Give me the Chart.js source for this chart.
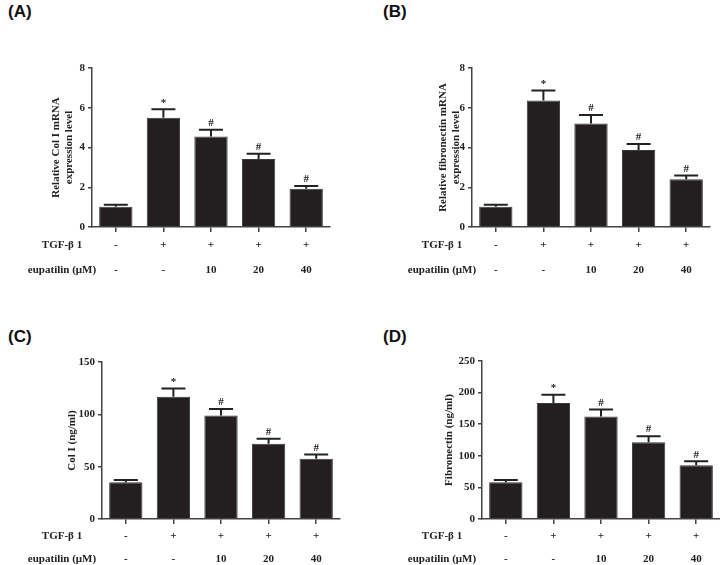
<!DOCTYPE html>
<html>
<head>
<meta charset="utf-8">
<script src="https://cdn.jsdelivr.net/npm/chart.js@4.4.1/dist/chart.umd.min.js"></script>
<style>
  body { margin: 0; background: #fff; }
  #wrap { position: relative; width: 720px; height: 565px; overflow: hidden; }
  canvas { position: absolute; }
  .tag { position: absolute; font: bold 17px "Liberation Sans", Arial, sans-serif; color: #111; line-height: 20px; }
</style>
</head>
<body>
<div id="wrap">
  <div class="tag" style="left:8px;top:2px">(A)</div>
  <div class="tag" style="left:383px;top:2px">(B)</div>
  <div class="tag" style="left:8px;top:327px">(C)</div>
  <div class="tag" style="left:383px;top:327px">(D)</div>
  <canvas id="chartA" width="360" height="282" style="left:0;top:0"></canvas>
  <canvas id="chartB" width="360" height="282" style="left:360px;top:0"></canvas>
  <canvas id="chartC" width="360" height="283" style="left:0;top:282px"></canvas>
  <canvas id="chartD" width="360" height="283" style="left:360px;top:282px"></canvas>
</div>
<script>
// rows printed under each x axis
const tgfRow = ['-', '+', '+', '+', '+'];
const eupatilinRow = ['-', '-', '10', '20', '40'];
const signif = ['', '*', '#', '#', '#'];

// (A) Col I mRNA, relative
const colMrna = [1.02, 5.50, 4.55, 3.42, 1.92];
const colMrnaSd = [0.10, 0.42, 0.34, 0.26, 0.14];

// (B) fibronectin mRNA, relative
const fnMrna = [1.02, 6.37, 5.21, 3.88, 2.40];
const fnMrnaSd = [0.10, 0.50, 0.42, 0.30, 0.19];

// (C) Col I protein, ng/ml
const colProt = [35, 116.7, 98.9, 71.8, 57.5];
const colProtSd = [2.2, 7.9, 6.3, 4.8, 4.2];

// (D) fibronectin protein, ng/ml
const fnProt = [58, 183.4, 162.3, 121.6, 85.1];
const fnProtSd = [3.8, 13.2, 11.1, 9.5, 6.3];

const ink = '#222';
const serif = "'Liberation Serif', 'Times New Roman', serif";

function makePanel(id, values, sd, yTitle, yMax, step, geo) {
    const labels = tgfRow.map((t, i) => [t, eupatilinRow[i]]);

    // error bars, significance marks and row headers
    const extras = {
        id: 'extras',
        afterDatasetsDraw(chart) {
            const ctx = chart.ctx;
            const y = chart.scales.y;
            const x = chart.scales.x;
            const bars = chart.getDatasetMeta(0).data;
            ctx.save();
            ctx.strokeStyle = ink;
            ctx.fillStyle = ink;
            ctx.lineWidth = 2;
            bars.forEach((bar, i) => {
                const top = y.getPixelForValue(values[i] + sd[i]);
                const half = bar.width * 0.36;
                ctx.beginPath();
                ctx.moveTo(bar.x, bar.y);
                ctx.lineTo(bar.x, top);
                ctx.moveTo(bar.x - half, top);
                ctx.lineTo(bar.x + half, top);
                ctx.stroke();
                if (signif[i]) {
                    ctx.font = 'bold 11px ' + serif;
                    ctx.textAlign = 'center';
                    ctx.textBaseline = 'bottom';
                    ctx.fillText(signif[i], bar.x, top - 1);
                }
            });
            const rowTop = x.top + 6;
            ctx.font = 'bold 11px ' + serif;
            ctx.textAlign = 'center';
            ctx.textBaseline = 'middle';
            ctx.fillText('TGF-β 1', geo.hdrX, rowTop + geo.rowH / 2);
            ctx.fillText('eupatilin (μM)', geo.hdrX, rowTop + geo.rowH * 1.5);
            ctx.restore();
        }
    };

    return new Chart(document.getElementById(id), {
        type: 'bar',
        data: {
            labels: labels,
            datasets: [{
                data: values,
                backgroundColor: '#231f20',
                borderColor: '#3a3a3a',
                borderWidth: 1,
                barPercentage: 0.7,
                categoryPercentage: 1.0
            }]
        },
        options: {
            responsive: false,
            animation: false,
            devicePixelRatio: 1,
            layout: { padding: { left: geo.pl, right: geo.pr, top: geo.pt, bottom: 0 } },
            plugins: { legend: { display: false }, tooltip: { enabled: false } },
            scales: {
                x: {
                    grid: { display: true, drawOnChartArea: false, offset: false, tickLength: 5, color: '#444', lineWidth: 1.5 },
                    border: { display: true, color: '#444', width: 1.5 },
                    ticks: {
                        color: ink, padding: 1, autoSkip: false, maxRotation: 0,
                        font: { family: serif, size: 11, weight: 'bold', lineHeight: geo.rowH + 'px' }
                    },
                    afterFit(s) { s.height = geo.xh; }
                },
                y: {
                    min: 0, max: yMax,
                    grid: { display: true, drawOnChartArea: false, tickLength: 4, color: '#444', lineWidth: 1.5 },
                    border: { display: true, color: '#444', width: 1.5 },
                    ticks: { stepSize: step, color: ink, padding: 3, font: { family: serif, size: 11, weight: 'bold' } },
                    title: {
                        display: true, text: yTitle, color: ink, padding: 0,
                        font: { family: serif, size: 11, weight: 'bold', lineHeight: '13px' }
                    },
                    afterFit(s) { s.width = geo.yw; }
                }
            }
        },
        plugins: [extras]
    });
}

makePanel('chartA', colMrna, colMrnaSd, ['Relative Col I mRNA', 'expression level'], 8, 2,
    { pl: 50, yw: 42, pr: 30, pt: 68, xh: 55, rowH: 25, hdrX: 62 });
makePanel('chartB', fnMrna, fnMrnaSd, ['Relative fibronectin mRNA', 'expression level'], 8, 2,
    { pl: 76.5, yw: 35.5, pr: 10, pt: 68, xh: 55, rowH: 25, hdrX: 82 });
makePanel('chartC', colProt, colProtSd, 'Col I (ng/ml)', 150, 50,
    { pl: 65.5, yw: 36.5, pr: 20, pt: 80, xh: 46, rowH: 23, hdrX: 62 });
makePanel('chartD', fnProt, fnProtSd, 'Fibronectin (ng/ml)', 250, 50,
    { pl: 82.5, yw: 39.5, pr: 0, pt: 79, xh: 46, rowH: 23, hdrX: 82 });
</script>
</body>
</html>
